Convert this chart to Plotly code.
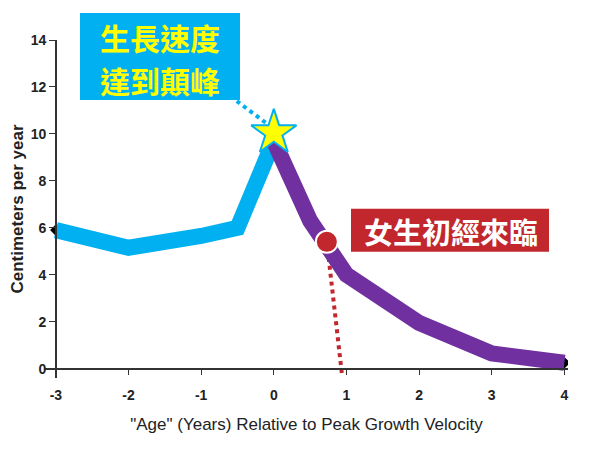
import plotly.graph_objects as go

# Data
x_before = [-3, -2, -1, -0.5, 0]
y_before = [5.9, 5.15, 5.65, 6.0, 9.7]
x_after = [0, 0.5, 1, 2, 3, 4]
y_after = [9.7, 6.3, 4.0, 1.95, 0.65, 0.25]
peak_x, peak_y = [0], [10.05]
menarche_x, menarche_y = [0.73], [5.4]
x_ticks = [-3, -2, -1, 0, 1, 2, 3, 4]
x_ticktext = ["-3", "-2", "-1", "0", "1", "2", "3", "4"]
y_ticks = [0, 2, 4, 6, 8, 10, 12, 14]
peak_label = ["生長速度", "達到顛峰"]
menarche_label = "女生初經來臨"

BLUE = "#00b0f0"
PURPLE = "#7030a0"
RED = "#c1272d"
FONT = "Liberation Sans, Arial"
CJK = "Noto Sans CJK TC"

# page body adds an 8px offset; plot area in screen pixels: left 45, top 40, 523 x 338
PL, PT, PW, PH = 45, 40, 523, 338.4


def px(x):
    return (x - PL) / PW


def py(y):
    return (PT + PH - y) / PH


fig = go.Figure()

fig.add_trace(go.Scatter(x=x_before + x_after, y=y_before + y_after, mode="markers",
                         marker=dict(symbol="diamond", size=9, color="black"),
                         showlegend=False, hoverinfo="skip"))
fig.add_trace(go.Scatter(x=[-0.51, -0.08], y=[11.4, 10.4], mode="lines",
                         line=dict(color=BLUE, width=4, dash="dot"), showlegend=False))
fig.add_trace(go.Scatter(x=[menarche_x[0], 0.94], y=[menarche_y[0], -0.3], mode="lines",
                         line=dict(color=RED, width=4, dash="dot"), showlegend=False))
fig.add_trace(go.Scatter(x=x_before, y=y_before, mode="lines",
                         line=dict(color=BLUE, width=16), showlegend=False))
fig.add_trace(go.Scatter(x=x_after, y=y_after, mode="lines",
                         line=dict(color=PURPLE, width=16), showlegend=False))
fig.add_trace(go.Scatter(x=peak_x, y=peak_y, mode="markers",
                         marker=dict(symbol="star", size=34, color="#ffff00",
                                     line=dict(color=BLUE, width=2)),
                         showlegend=False, cliponaxis=False))
fig.add_trace(go.Scatter(x=menarche_x, y=menarche_y, mode="markers",
                         marker=dict(symbol="circle", size=22, color=RED,
                                     line=dict(color="white", width=2)),
                         showlegend=False, cliponaxis=False))

fig.update_layout(
    width=592, height=442,
    margin=dict(l=37, r=32, t=32, b=72),
    plot_bgcolor="white", paper_bgcolor="white",
    font=dict(family=FONT, color="#222"),
    xaxis=dict(range=[-3.15, 4.05], tickvals=x_ticks, ticktext=x_ticktext,
               ticks="outside", ticklen=6, automargin=False, ticklabelstandoff=8,
               showline=True, linecolor="#333", linewidth=1.5, tickcolor="#333",
               showgrid=False, zeroline=False, anchor="free", position=0.4 / 14.4,
               tickfont=dict(size=14, family=FONT, weight="bold"),
               title=dict(text="\"Age\" (Years) Relative to Peak Growth Velocity",
                          font=dict(size=17, family=FONT), standoff=15)),
    yaxis=dict(range=[-0.4, 14.0], tickvals=y_ticks, ticks="outside", ticklen=6,
               automargin=False,
               showline=True, linecolor="#333", linewidth=1.5, tickcolor="#333",
               showgrid=False, zeroline=False, anchor="free", position=0.15 / 7.2,
               tickfont=dict(size=14, family=FONT, weight="bold"),
               title=dict(text="Centimeters per year",
                          font=dict(size=17, family=FONT, weight="bold"), standoff=6)),
)

# peak label box
fig.add_shape(type="rect", xref="paper", yref="paper", layer="above",
              x0=px(80), x1=px(240), y0=py(100), y1=py(13),
              fillcolor=BLUE, line=dict(width=0))
fig.add_annotation(xref="paper", yref="paper", x=px(160), y=py(37),
                   xanchor="center", yanchor="middle", showarrow=False,
                   text=peak_label[0], borderpad=0,
                   font=dict(family=CJK, size=30, color="#ffff00", weight="bold"))
fig.add_annotation(xref="paper", yref="paper", x=px(160), y=py(80),
                   xanchor="center", yanchor="middle", showarrow=False,
                   text=peak_label[1], borderpad=0,
                   font=dict(family=CJK, size=30, color="#ffff00", weight="bold"))

# menarche label box
fig.add_shape(type="rect", xref="paper", yref="paper", layer="above",
              x0=px(351), x1=px(549), y0=py(252), y1=py(209),
              fillcolor=RED, line=dict(width=0))
fig.add_annotation(xref="paper", yref="paper", x=px(451), y=py(231),
                   xanchor="center", yanchor="middle", showarrow=False,
                   text=menarche_label,
                   font=dict(family=CJK, size=29, color="white", weight="bold"))

fig.write_html("out.html")
